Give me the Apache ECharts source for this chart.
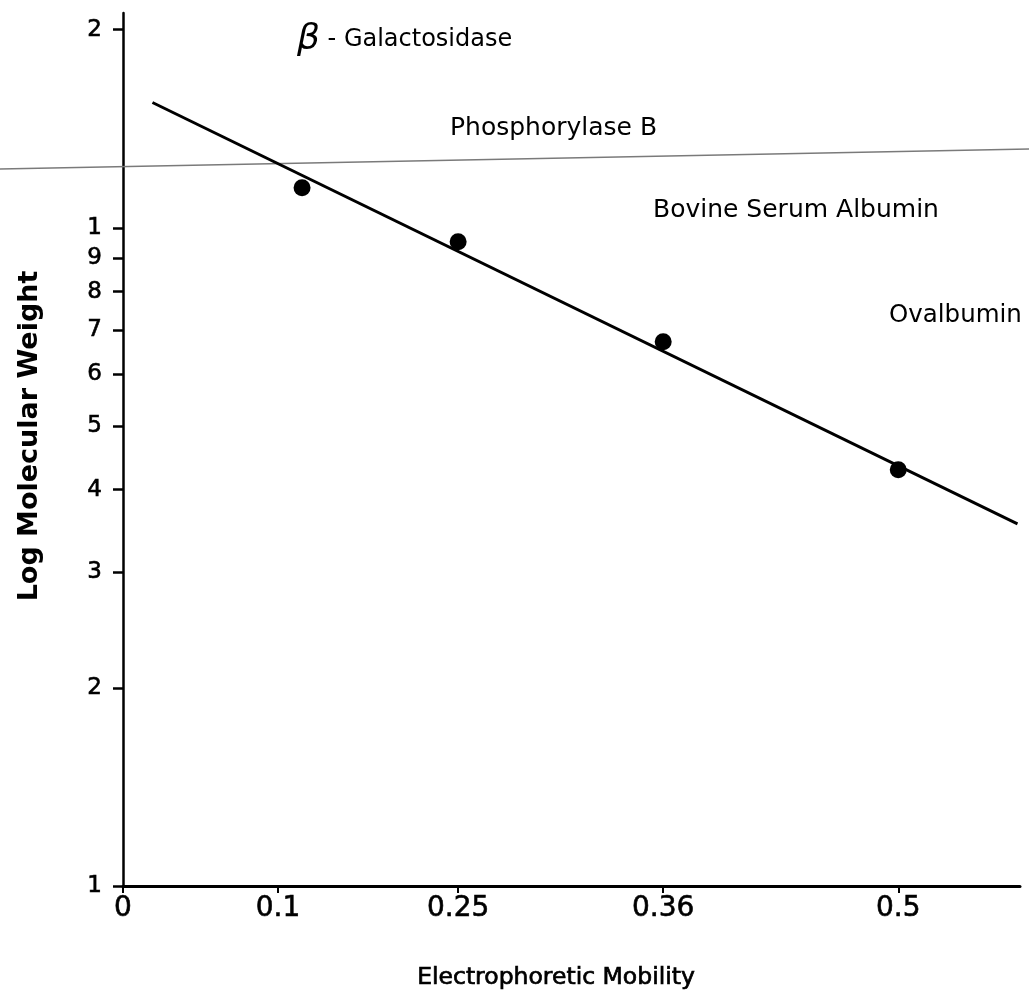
<!DOCTYPE html>
<html>
<head>
<meta charset="utf-8">
<title>Log Molecular Weight vs Electrophoretic Mobility</title>
<script src="https://cdn.jsdelivr.net/npm/echarts@6/dist/echarts.min.js"></script>
<style>
  html, body { margin: 0; padding: 0; background: #fff; }
  #chart { width: 1029px; height: 1004px; }
</style>
</head>
<body>
<div id="chart"></div>
<script>
// Protein standards: mobility and molecular weight (x 10^4 daltons)
const proteins = ['β-Galactosidase', 'Phosphorylase B', 'Bovine Serum Albumin', 'Ovalbumin'];
const mobility = [0.12, 0.25, 0.36, 0.5];
const molWeight = [11.5, 9.52, 6.71, 4.29];

// End points of the fitted calibration line
const fitMobility = [0.019, 0.571];
const fitWeight = [15.5, 3.55];

// Printed tick marks
const xTickValues = [0, 0.1, 0.25, 0.36, 0.5];
const xTickLabels = ['0', '0.1', '0.25', '0.36', '0.5'];
const yTickValues = [1, 2, 3, 4, 5, 6, 7, 8, 9, 10, 20];
const yTickLabels = ['1', '2', '3', '4', '5', '6', '7', '8', '9', '1', '2'];

// The printed mobility scale is not uniform: distance of each printed tick from the origin
const X_KNOT_OFFSETS = [0, 155, 335, 540, 775];
function toAxis(m) {
  const k = xTickValues, d = X_KNOT_OFFSETS;
  let i = 0;
  while (i < k.length - 2 && m > k[i + 1]) i++;
  return d[i] + (m - k[i]) / (k[i + 1] - k[i]) * (d[i + 1] - d[i]);
}
const X_MAX = toAxis(0.5725);
const Y_MAX = Math.log10(21.2);

const yTickLog = yTickValues.map(v => Math.log10(v));
const xTickAxis = xTickValues.map(toAxis);

function lookup(values, labels, v) {
  for (let i = 0; i < values.length; i++) {
    if (Math.abs(values[i] - v) < 1e-6) return labels[i];
  }
  return '';
}

const FONT = 'DejaVu Sans';
// a hairline outline gives the lettering a slightly heavier stroke
const INK = { textBorderColor: '#000', textBorderWidth: 0.6 };
const chart = echarts.init(document.getElementById('chart'), null, { renderer: 'canvas' });

chart.setOption({
  backgroundColor: '#fff',
  animation: false,
  grid: { left: 123, right: 9, top: 13, bottom: 118, containLabel: false },
  xAxis: {
    type: 'value',
    min: 0,
    max: X_MAX,
    axisLine: { lineStyle: { color: '#000', width: 3 } },
    axisTick: {
      show: true,
      customValues: xTickAxis,
      length: 7,
      lineStyle: { color: '#000', width: 2 }
    },
    axisLabel: Object.assign({
      customValues: xTickAxis,
      formatter: v => lookup(xTickAxis, xTickLabels, v),
      fontFamily: FONT,
      fontSize: 28,
      color: '#000',
      margin: 9
    }, INK),
    splitLine: { show: false }
  },
  yAxis: {
    type: 'value',
    min: 0,
    max: Y_MAX,
    axisLine: { lineStyle: { color: '#000', width: 2.5 } },
    axisTick: {
      show: true,
      customValues: yTickLog,
      length: 10,
      lineStyle: { color: '#000', width: 2.5 }
    },
    axisLabel: Object.assign({
      customValues: yTickLog,
      formatter: v => lookup(yTickLog, yTickLabels, v),
      fontFamily: FONT,
      fontSize: 23,
      color: '#000',
      margin: 21
    }, INK),
    splitLine: { show: false }
  },
  series: [
    {
      name: 'Calibration',
      type: 'line',
      data: fitMobility.map((m, i) => [toAxis(m), Math.log10(fitWeight[i])]),
      showSymbol: false,
      lineStyle: { color: '#000', width: 3 },
      z: 2
    },
    {
      name: 'Standards',
      type: 'scatter',
      data: mobility.map((m, i) => ({ name: proteins[i], value: [toAxis(m), Math.log10(molWeight[i])] })),
      symbolSize: 17,
      itemStyle: { color: '#000', opacity: 1 },
      z: 3
    }
  ],
  graphic: [
    // faint rule running across the sheet
    {
      type: 'line',
      shape: { x1: 0, y1: 169, x2: 1029, y2: 149 },
      style: { stroke: '#7a7a7a', lineWidth: 1.5 },
      z: 1
    },
    // axis titles
    {
      type: 'text', x: 30, y: 436, rotation: Math.PI / 2,
      style: {
        text: 'Log Molecular Weight', fontFamily: FONT, fontSize: 27, fontWeight: 'bold',
        fill: '#000', align: 'center', verticalAlign: 'middle'
      }
    },
    {
      type: 'text', x: 556, y: 978,
      style: {
        text: 'Electrophoretic Mobility', fontFamily: FONT, fontSize: 23.5,
        fill: '#000', stroke: '#000', lineWidth: 0.7, align: 'center', verticalAlign: 'middle'
      }
    },
    // protein names
    {
      type: 'text', x: 297, y: 40,
      style: {
        text: '{b|β}{t| - ' + proteins[0].slice(2) + '}',
        verticalAlign: 'middle',
        rich: {
          b: { fontFamily: FONT, fontSize: 36, fontStyle: 'italic', fill: '#000' },
          t: { fontFamily: FONT, fontSize: 24, fill: '#000' }
        }
      }
    },
    {
      type: 'text', x: 450, y: 128,
      style: { text: proteins[1], fontFamily: FONT, fontSize: 25, fill: '#000', verticalAlign: 'middle' }
    },
    {
      type: 'text', x: 653, y: 210,
      style: { text: proteins[2], fontFamily: FONT, fontSize: 25, fill: '#000', verticalAlign: 'middle' }
    },
    {
      type: 'text', x: 889, y: 316,
      style: { text: proteins[3], fontFamily: FONT, fontSize: 24.5, fill: '#000', verticalAlign: 'middle' }
    }
  ]
});
</script>
</body>
</html>
